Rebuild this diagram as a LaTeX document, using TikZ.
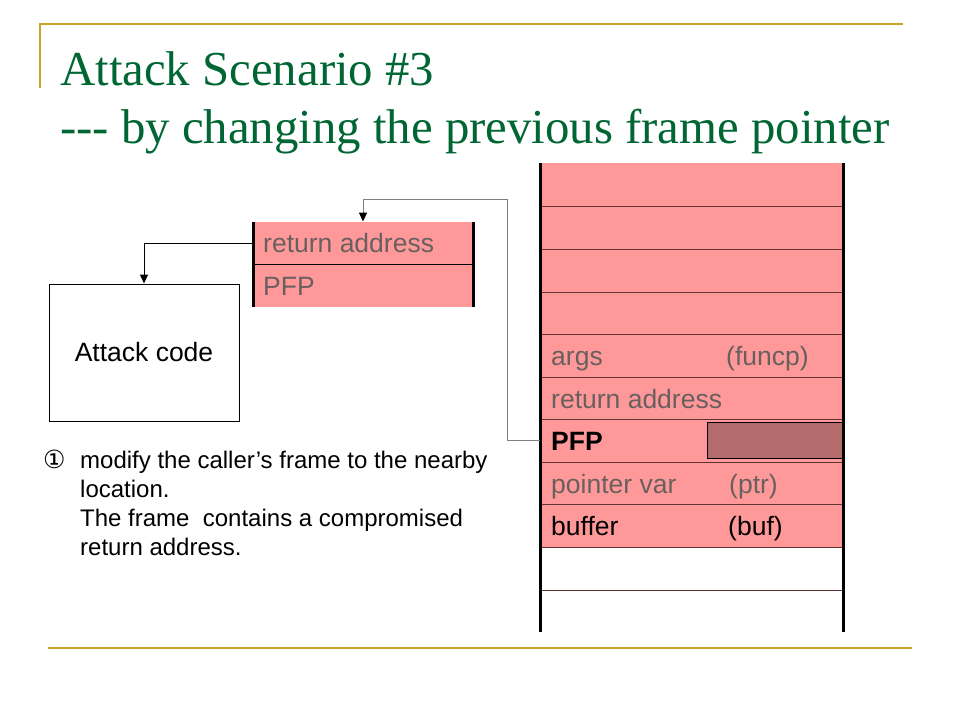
\documentclass[tikz,border=0pt]{standalone}
\usepackage{fontspec}
\setmainfont{Liberation Sans}
\newfontfamily\titlefont{Liberation Serif}
\newfontfamily\symfont{DejaVu Sans}
\usetikzlibrary{arrows.meta}
\definecolor{goldc}{RGB}{201,162,39}
\definecolor{ttl}{RGB}{0,102,51}
\definecolor{pinkc}{RGB}{255,153,153}
\definecolor{darkc}{RGB}{179,107,107}
\definecolor{sepc}{RGB}{100,50,50}
\definecolor{txtgray}{RGB}{105,95,95}
\definecolor{conngray}{RGB}{128,128,128}
\tikzset{
  cell/.style={inner sep=0pt, minimum width=303pt, minimum height=42.7pt},
  scell/.style={inner sep=0pt, minimum width=220pt, minimum height=42.5pt},
  lbl/.style={anchor=base west, inner sep=0pt, font=\fontsize{26.5}{30}\selectfont},
  side/.style={line width=3pt, black},
  rowline/.style={line width=1pt, sepc},
  conn/.style={line width=1pt, -{Triangle[length=9pt,width=8pt,color=black]}},
  goldline/.style={goldc, line width=2pt}
}
\begin{document}
\begin{tikzpicture}[x=1pt,y=-1pt]
\useasboundingbox (0,0) rectangle (960,720);
\fill[white] (0,0) rectangle (960,720);
% frame lines
\draw[goldline] (40,24) -- (903,24);
\draw[goldline] (40,23) -- (40,88);
\draw[goldline] (48,648) -- (912,648);
% title
\node[anchor=base west, inner sep=0pt, text=ttl, font=\titlefont\fontsize{48.8}{56}\selectfont] (t1) at (60,85) {Attack Scenario \#3};
\node[anchor=base west, inner sep=0pt, text=ttl, font=\titlefont\fontsize{48.8}{56}\selectfont] (t2) at (60,143) {-{}-{}- by changing the previous frame pointer};
% main stack
\fill[pinkc] (540,163) rectangle (843,547);
\foreach \i/\y in {1/184.5,2/227.5,3/270.5,4/313,5/355.5,6/398,7/440.5,8/483,9/525.5,10/568.5,11/611}{
  \node[cell] (s\i) at (691.5,\y) {};
}
\fill[darkc] (707,422) rectangle (843,458);
\draw[black, line width=0.8pt] (843,422) -- (707,422) -- (707,458) -- (843,458);
\foreach \y in {206,249,292,334,377,419,462,504,547,590}{
  \draw[rowline] (540,\y) -- (843,\y);
}
\draw[side] (540,163) -- (540,632);
\draw[side] (843,163) -- (843,632);
\node[lbl, text=txtgray] (a1) at (551,365) {args};
\node[lbl, text=txtgray] (a2) at (726,365) {(funcp)};
\node[lbl, text=txtgray] (b1) at (551,408) {return address};
\node[lbl, text=black, font=\bfseries\fontsize{26.5}{30}\selectfont] (c1) at (551,450) {PFP};
\node[lbl, text=txtgray] (d1) at (551,493) {pointer var};
\node[lbl, text=txtgray] (d2) at (729,493) {(ptr)};
\node[lbl, text=black] (e1) at (551,535) {buffer};
\node[lbl, text=black] (e2) at (728,535) {(buf)};
% small stack
\fill[pinkc] (253,222) rectangle (473,307);
\node[scell] (ra) at (363,243) {};
\node[scell] (pf) at (363,285.5) {};
\draw[black, line width=1pt] (253,264) -- (473,264);
\draw[side] (253,222) -- (253,307);
\draw[side] (473,222) -- (473,307);
\node[lbl, text=txtgray] (f1) at (263,252) {return address};
\node[lbl, text=txtgray] (f2) at (263,295) {PFP};
% attack code
\node[draw=black, line width=1pt, minimum width=190pt, minimum height=137pt, inner sep=0pt, font=\fontsize{26.5}{30}\selectfont] (ac) at (144,352.5) {Attack code};
% connectors
\draw[conn, black] (ra.west) -| (ac.north);
\coordinate (bend) at (507,199);
\draw[conn, conngray] (s7.west) -| (bend) -| (ra.north);
% legend
\node[anchor=base west, inner sep=0pt, font=\symfont\fontsize{25}{28}\selectfont] (n1) at (43,468) {①};
\node[anchor=base west, inner sep=0pt, font=\fontsize{24}{29}\selectfont] (l1) at (80,468) {modify the caller’s frame to the nearby};
\node[anchor=base west, inner sep=0pt, font=\fontsize{24}{29}\selectfont] (l2) at (80,497) {location.};
\node[anchor=base west, inner sep=0pt, font=\fontsize{24}{29}\selectfont] (l3) at (80,526) {The frame\ \ contains a compromised};
\node[anchor=base west, inner sep=0pt, font=\fontsize{24}{29}\selectfont] (l4) at (80,555) {return address.};
\end{tikzpicture}
\end{document}
